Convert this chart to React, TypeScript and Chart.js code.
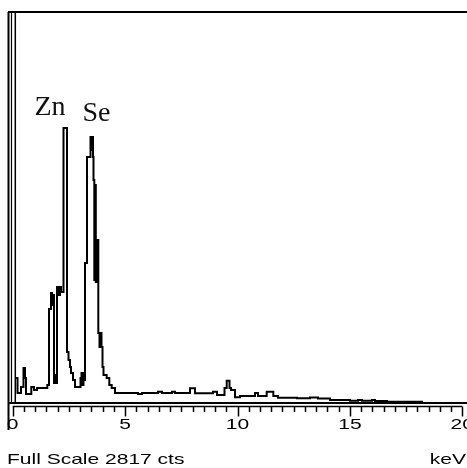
import React, { useEffect, useRef } from "react";
import { Chart, registerables } from "chart.js";

Chart.register(...registerables);

// Spectrum trace (keV, counts)
const energies = [
  0.147, 0.214, 0.369, 0.48, 0.547, 0.592, 0.827, 0.948, 1.081, 1.539,
  1.615, 1.704, 1.749, 1.793, 1.837, 1.882, 1.926, 1.971, 2.06, 2.104,
  2.149, 2.26, 2.416, 2.482, 2.549, 2.593, 2.682, 2.771, 3.016, 3.06,
  3.105, 3.149, 3.194, 3.216, 3.305, 3.461, 3.505, 3.528, 3.572, 3.594,
  3.63, 3.661, 3.697, 3.737, 3.808, 3.861, 3.906, 3.95, 3.995, 4.039,
  4.181, 4.297, 4.404, 4.551, 4.996, 5.574, 5.752, 6.464, 6.642, 7.086,
  7.22, 7.887, 8.11, 8.91, 9.088, 9.422, 9.52, 9.644, 9.711, 9.889,
  10.111, 10.779, 10.912, 11.299, 11.593, 11.8, 12.647, 13.225, 13.581, 14.115,
  15.004, 15.36, 15.538, 15.98, 16.117, 16.65, 18.25,
];
const counts = [
  180, 72, 115, 252, 180, 65, 115, 94, 108, 130,
  677, 793, 706, 778, 144, 202, 144, 836, 778, 836,
  800, 1981, 367, 310, 259, 216, 166, 115, 180, 216,
  130, 216, 166, 1009, 1772, 1916, 1823, 1916, 1772, 1607,
  886, 1571, 872, 1174, 504, 403, 504, 403, 259, 202,
  180, 130, 108, 72, 72, 65, 72, 81, 72, 81,
  72, 106, 70, 81, 58, 108, 161, 108, 94, 41,
  50, 72, 50, 81, 50, 38, 34, 40, 32, 22,
  17, 22, 17, 22, 14, 9, 9,
];

const xMin = 0;
const xMax = 20;
const fullScale = 2817;
const majorTicks = [0, 5, 10, 15, 20];
const minorStep = 0.5;
const fullScaleLabel = "Full Scale 2817 cts";
const unitLabel = "keV";
const peakLabels = ["Zn", "Se"];

const decorPlugin = {
  id: "edsDecor",
  afterDraw(chart: any) {
    const ctx = chart.ctx as CanvasRenderingContext2D;
    const xs = chart.scales.x;
    const area = chart.chartArea;
    const W = chart.width;
    ctx.save();
    ctx.strokeStyle = "#000";
    ctx.fillStyle = "#000";

    const line = (x1: number, y1: number, x2: number, y2: number, w: number) => {
      ctx.lineWidth = w;
      ctx.beginPath();
      ctx.moveTo(x1, y1);
      ctx.lineTo(x2, y2);
      ctx.stroke();
    };

    // frame
    line(8, area.top, W, area.top, 2);
    line(8, area.bottom, W, area.bottom, 2);
    line(8.5, area.top, 8.5, 430, 2);
    line(11.5, area.top, 11.5, area.bottom, 1.2);
    line(15.3, area.top, 15.3, area.bottom, 1.5);

    // ruler
    const rulerY = area.bottom + 3.5;
    line(xs.getPixelForValue(xMin), rulerY, xs.getPixelForValue(xMax), rulerY, 1.5);
    for (let v = xMin; v <= xMax + 1e-9; v += minorStep) {
      const px = Math.round(xs.getPixelForValue(v)) + 0.5;
      const major = majorTicks.some((m) => Math.abs(m - v) < 1e-6);
      line(px, rulerY, px, rulerY + (major ? 10 : 5.5), 1.5);
    }

    const stretched = (text: string, x: number, y: number, align: CanvasTextAlign) => {
      ctx.save();
      ctx.translate(x, y);
      ctx.scale(1.4, 1);
      ctx.textAlign = align;
      ctx.textBaseline = "alphabetic";
      ctx.fillText(text, 0, 0);
      ctx.restore();
    };
    ctx.font = '15px "Liberation Sans", Arial, sans-serif';
    ctx.fillStyle = "#000";
    majorTicks.forEach((m) => {
      stretched(String(m), xs.getPixelForValue(m), 428.5, "center");
    });
    stretched(fullScaleLabel, 7, 464, "left");
    stretched(unitLabel, 466, 464, "right");

    // peak labels
    ctx.font = '28px "Liberation Serif", "Times New Roman", serif';
    ctx.fillStyle = "#111";
    ctx.textAlign = "left";
    ctx.textBaseline = "alphabetic";
    ctx.fillText(peakLabels[0], 34.5, 114.5);
    ctx.fillText(peakLabels[1], 82.5, 121);
    ctx.restore();
  },
};

export default function App() {
  const ref = useRef<HTMLCanvasElement | null>(null);
  useEffect(() => {
    if (!ref.current) return;
    const chart = new Chart(ref.current, {
      type: "line",
      data: {
        datasets: [
          {
            data: energies.map((e, i) => ({ x: e, y: counts[i] })),
            borderColor: "#000",
            borderWidth: 2,
            pointRadius: 0,
            fill: false,
            stepped: true,
          },
        ],
      },
      options: {
        responsive: false,
        animation: false,
        layout: { padding: { left: 12.7, right: 4.7, top: 12, bottom: 65 } },
        scales: {
          x: { type: "linear", min: xMin, max: xMax, display: false },
          y: { type: "linear", min: 0, max: fullScale, display: false },
        },
        plugins: { legend: { display: false }, tooltip: { enabled: false } },
      },
      plugins: [decorPlugin],
    });
    return () => chart.destroy();
  }, []);
  return (
    <div style={{ position: "absolute", left: 0, top: 0, width: 467, height: 468, background: "#fff" }}>
      <canvas ref={ref} width={467} height={468} />
    </div>
  );
}
